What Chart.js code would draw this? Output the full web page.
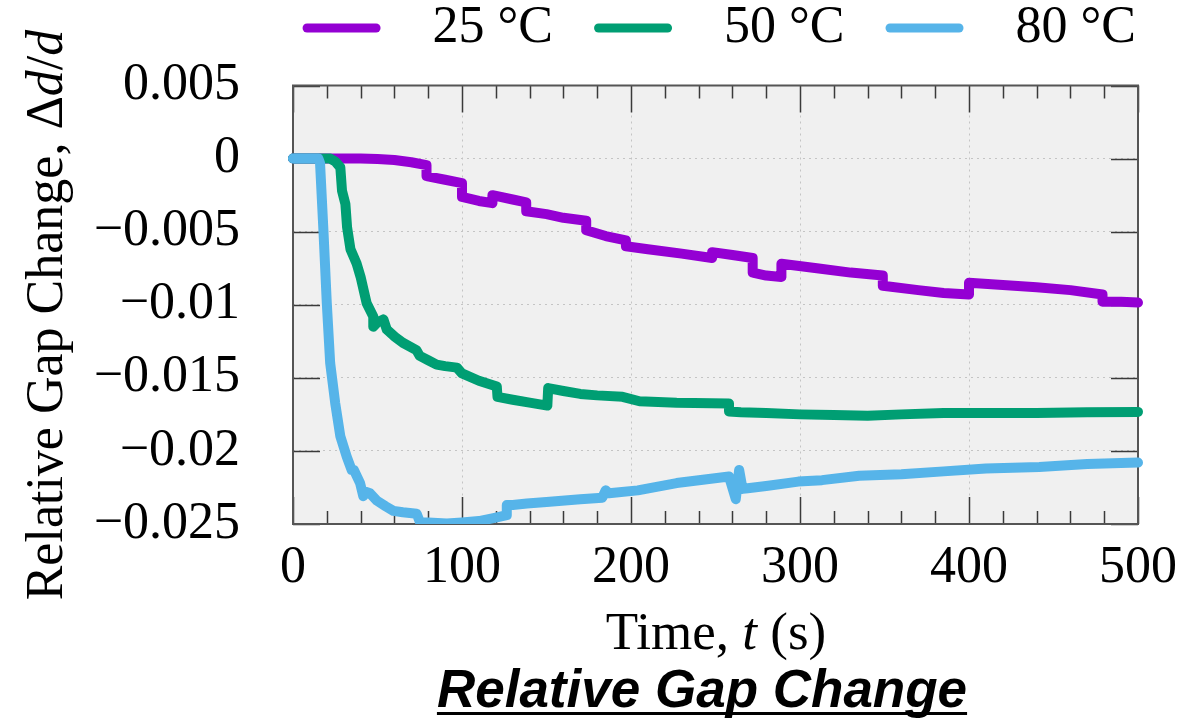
<!DOCTYPE html>
<html>
<head>
<meta charset="utf-8">
<script src="https://cdn.jsdelivr.net/npm/chart.js@4.4.0/dist/chart.umd.min.js"></script>
<style>
html,body{margin:0;padding:0;background:#fff;}
#wrap{width:1198px;height:721px;position:relative;}
</style>
</head>
<body>
<div id="wrap"><canvas id="c" width="1198" height="721"></canvas></div>
<script>
// ---- data ----
const seriesLabels = ['25 \u00B0C', '50 \u00B0C', '80 \u00B0C'];
const seriesColors = ['#9400d3', '#009e73', '#56b4e9'];

const time25 = [0, 20, 40, 50, 60, 70, 79, 79, 90, 100, 100, 110, 118, 118, 130, 138, 138, 150, 160, 173.5, 173.5, 185, 197, 197, 210, 230, 248, 248, 260, 272, 272, 280, 289, 289, 310, 330, 349, 349, 370, 385, 400, 400, 420, 440, 460, 479, 479, 490, 500];
const gap25 = [0, 0, 0, -0.00003, -0.0001, -0.00025, -0.00045, -0.0012, -0.00145, -0.00168, -0.00262, -0.0029, -0.00305, -0.0025, -0.0028, -0.003, -0.0036, -0.0038, -0.00405, -0.00425, -0.0049, -0.0053, -0.0056, -0.006, -0.0062, -0.0065, -0.0068, -0.0064, -0.0066, -0.0068, -0.0078, -0.008, -0.0081, -0.0072, -0.0075, -0.0078, -0.008, -0.0087, -0.009, -0.0092, -0.0093, -0.0085, -0.00865, -0.0088, -0.009, -0.0093, -0.0098, -0.0098, -0.00985];

const time50 = [0, 22, 25, 28, 29, 31, 32, 34, 37.7, 40, 43.6, 47.5, 47.5, 50, 53.5, 55.5, 60.4, 65, 73, 75, 80, 85, 90, 97, 100, 110, 120.6, 121, 130, 140, 150.5, 151, 160, 170, 180, 195, 205, 227, 258, 258, 265, 280, 300, 320, 340, 360, 385, 410, 440, 470, 500];
const gap50 = [0, 0, -0.0002, -0.0006, -0.0022, -0.0031, -0.0047, -0.0062, -0.0072, -0.0081, -0.0099, -0.0108, -0.0115, -0.0112, -0.011, -0.0117, -0.0122, -0.0126, -0.0131, -0.0135, -0.0138, -0.0141, -0.0142, -0.0143, -0.0147, -0.0152, -0.0156, -0.0163, -0.0165, -0.0167, -0.0169, -0.0157, -0.0159, -0.0161, -0.0162, -0.0163, -0.0166, -0.0167, -0.01675, -0.0173, -0.01735, -0.0174, -0.0175, -0.01755, -0.0176, -0.0175, -0.0174, -0.0174, -0.0174, -0.01735, -0.01733];

const time80 = [0, 15, 16, 18, 20, 22, 25, 28, 31.8, 34.7, 36, 39.7, 41.6, 43, 45.6, 49.6, 55, 59.4, 65, 73.2, 75.2, 80, 91, 100, 110, 118.6, 126.5, 126.5, 130, 138.4, 150, 170, 183, 185, 187, 204, 227, 258, 262, 264, 266, 269, 280, 299, 313, 335, 360, 385, 410, 441.6, 470, 500];
const gap80 = [0, 0, -0.0003, -0.0049, -0.0099, -0.014, -0.01675, -0.019, -0.0204, -0.0213, -0.0213, -0.0222, -0.0231, -0.0228, -0.0229, -0.0234, -0.0238, -0.0241, -0.0242, -0.0243, -0.0249, -0.0249, -0.02497, -0.0249, -0.0248, -0.0246, -0.0244, -0.0237, -0.0237, -0.0236, -0.0235, -0.0233, -0.0232, -0.0227, -0.0229, -0.0227, -0.0222, -0.02175, -0.0233, -0.0213, -0.0226, -0.02255, -0.0224, -0.0221, -0.022, -0.0217, -0.0216, -0.0214, -0.0212, -0.0211, -0.0209, -0.0208];

const xTicks = [0, 100, 200, 300, 400, 500];
const xMinorTicks = [20, 40, 60, 80, 120, 140, 160, 180, 220, 240, 260, 280, 320, 340, 360, 380, 420, 440, 460, 480];
const yTicks = [0.005, 0, -0.005, -0.01, -0.015, -0.02, -0.025];

const xTitleParts = [['Time, ', false], ['t', true], [' (s)', false]];
const yTitleParts = [['Relative Gap Change, \u0394', false], ['d', true], ['/', false], ['d', true]];
const mainTitle = 'Relative Gap Change';

// ---- chart ----
const SERIF = '"Liberation Serif", "Times New Roman", serif';
const toPts = (xs, ys) => xs.map((x, i) => ({x: x, y: ys[i]}));
const seriesTimes = [time25, time50, time80];
const seriesGaps = [gap25, gap50, gap80];

const datasets = seriesLabels.map((lab, i) => ({
  label: lab,
  data: toPts(seriesTimes[i], seriesGaps[i]),
  borderColor: seriesColors[i],
  backgroundColor: seriesColors[i],
  borderWidth: 10,
  pointRadius: 0,
  pointHoverRadius: 0,
  tension: 0,
  fill: false,
  borderJoinStyle: 'round',
  borderCapStyle: 'round',
  clip: {left: 8, top: 8, right: 8, bottom: 0},
  order: 3 - i
}));

const fmtY = v => {
  const r = Math.round(v * 1000) / 1000;
  if (r === 0) return '0';
  return (r < 0 ? '\u2212' : '') + String(Math.abs(r));
};

const framePlugin = {
  id: 'frame',
  beforeLayout(chart) {
    if (chart.legend && !chart.legend._patched) {
      const orig = chart.legend.fit;
      chart.legend.fit = function () { orig.call(this); this.height = 85.5; };
      chart.legend._patched = true;
    }
  },
  beforeDraw(chart) {
    const a = chart.chartArea, ctx = chart.ctx;
    ctx.save();
    ctx.fillStyle = '#f0f0f0';
    ctx.fillRect(a.left, a.top, a.right - a.left, a.bottom - a.top);
    ctx.restore();
  },
  beforeDatasetsDraw(chart) {
    const a = chart.chartArea, ctx = chart.ctx;
    const xs = chart.scales.x, ys = chart.scales.y;
    ctx.save();
    ctx.strokeStyle = '#3a3a3a';
    ctx.lineWidth = 1.5;
    ctx.beginPath();
    xTicks.forEach(v => {
      const px = Math.round(xs.getPixelForValue(v)) + 0.5;
      ctx.moveTo(px, a.bottom); ctx.lineTo(px, a.bottom - 27);
      ctx.moveTo(px, a.top); ctx.lineTo(px, a.top + 27);
    });
    xMinorTicks.forEach(v => {
      const px = Math.round(xs.getPixelForValue(v)) + 0.5;
      ctx.moveTo(px, a.bottom); ctx.lineTo(px, a.bottom - 13);
      ctx.moveTo(px, a.top); ctx.lineTo(px, a.top + 13);
    });
    yTicks.forEach(v => {
      const py = Math.round(ys.getPixelForValue(v)) + 0.5;
      ctx.moveTo(a.left, py); ctx.lineTo(a.left + 27, py);
      ctx.moveTo(a.right, py); ctx.lineTo(a.right - 27, py);
    });
    ctx.stroke();
    ctx.strokeStyle = '#555555';
    ctx.lineWidth = 2;
    ctx.strokeRect(a.left, a.top, a.right - a.left, a.bottom - a.top);
    ctx.restore();
  },
  afterDraw(chart) {
    const ctx = chart.ctx;
    const drawParts = (parts, size, cx, y) => {
      let total = 0;
      const m = parts.map(([t, it]) => {
        ctx.font = (it ? 'italic ' : '') + size + 'px ' + SERIF;
        const w = ctx.measureText(t).width;
        total += w;
        return w;
      });
      let x = cx - total / 2;
      parts.forEach(([t, it], i) => {
        ctx.font = (it ? 'italic ' : '') + size + 'px ' + SERIF;
        ctx.fillText(t, x, y);
        x += m[i];
      });
    };
    ctx.save();
    ctx.fillStyle = '#000';
    ctx.textAlign = 'left';
    ctx.textBaseline = 'alphabetic';
    // x title
    drawParts(xTitleParts, 53, 716, 649);
    // y title
    ctx.save();
    ctx.translate(62, 315);
    ctx.rotate(-Math.PI / 2);
    drawParts(yTitleParts, 52, 0, 0);
    ctx.restore();
    // main title (underlined)
    ctx.font = 'italic bold 53px "Liberation Sans", Arial, sans-serif';
    const w = ctx.measureText(mainTitle).width;
    const tx = 702 - w / 2;
    ctx.fillText(mainTitle, tx, 707);
    ctx.fillRect(tx, 712, w, 3);
    ctx.restore();
  }
};

new Chart(document.getElementById('c'), {
  type: 'line',
  data: { datasets: datasets },
  options: {
    responsive: false,
    devicePixelRatio: 1,
    animation: false,
    layout: { padding: { left: 0, right: 60, top: 0, bottom: 0 } },
    plugins: {
      tooltip: { enabled: false },
      title: { display: false },
      legend: {
        display: true,
        position: 'top',
        align: 'end',
        labels: {
          font: { family: SERIF, size: 52 },
          color: '#000',
          boxWidth: 78,
          boxHeight: 9,
          padding: 2,
          useBorderRadius: true,
          borderRadius: 4.5,
          generateLabels: (chart) => chart.data.datasets.map((ds, i) => ({
            text: '  ' + ds.label + (i < chart.data.datasets.length - 1 ? '   ' : ''),
            fillStyle: ds.borderColor,
            strokeStyle: ds.borderColor,
            lineWidth: 0,
            hidden: false,
            datasetIndex: i,
            borderRadius: 4.5,
            fontColor: '#000'
          }))
        }
      }
    },
    scales: {
      x: {
        type: 'linear',
        position: 'bottom',
        min: 0,
        max: 500,
        afterBuildTicks: s => { s.ticks = xTicks.map(v => ({value: v})); },
        afterFit: s => { s.height = 197; },
        ticks: {
          font: { family: SERIF, size: 52 },
          color: '#000',
          padding: 13,
          maxRotation: 0,
          autoSkip: false
        },
        grid: { color: '#c4c4c4', lineWidth: 1, drawTicks: false },
        border: { display: false, dash: [2, 4] }
      },
      y: {
        type: 'linear',
        min: -0.025,
        max: 0.005,
        afterBuildTicks: s => { s.ticks = yTicks.map(v => ({value: v})); },
        afterFit: s => { s.width = 293; },
        ticks: {
          font: { family: SERIF, size: 52 },
          color: '#000',
          padding: 53,
          autoSkip: false,
          callback: v => fmtY(v)
        },
        grid: { color: '#c4c4c4', lineWidth: 1, drawTicks: false },
        border: { display: false, dash: [2, 4] }
      }
    }
  },
  plugins: [framePlugin]
});
</script>
</body>
</html>
